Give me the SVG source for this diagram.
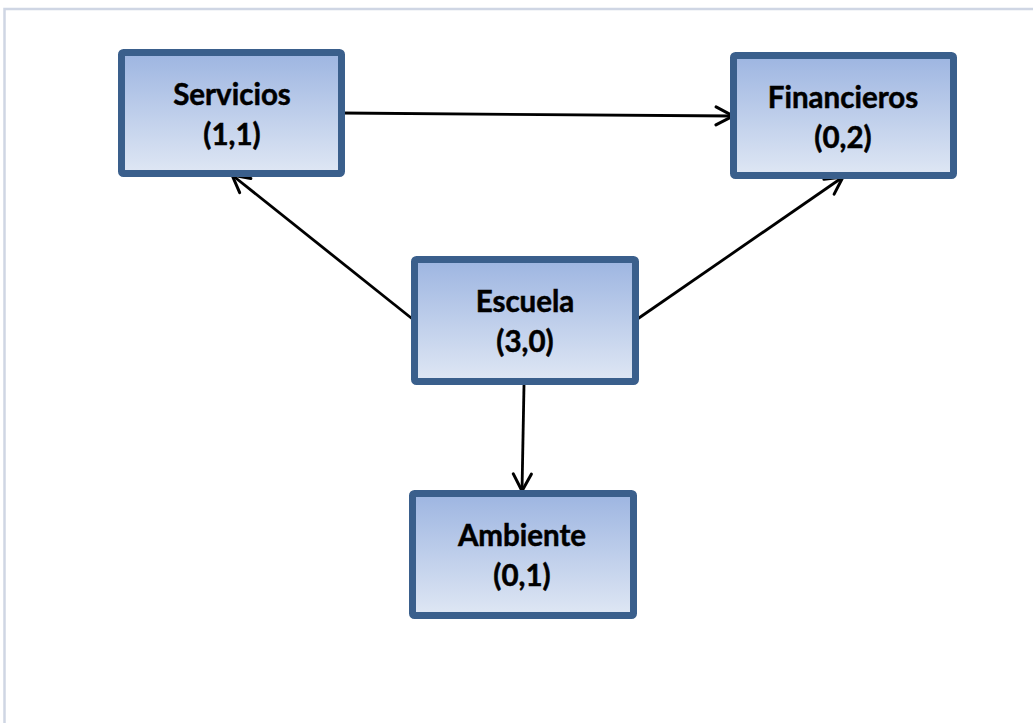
<svg xmlns="http://www.w3.org/2000/svg" width="1033" height="723" viewBox="0 0 1033 723">
  <defs>
    <linearGradient id="boxFill" x1="0" y1="0" x2="0" y2="1">
      <stop offset="0" stop-color="#9db5e1"/>
      <stop offset="1" stop-color="#dfe7f4"/>
    </linearGradient>
    <marker id="arrow" viewBox="0 0 22 22" refX="20" refY="11" markerWidth="22" markerHeight="22" markerUnits="userSpaceOnUse" orient="auto">
      <path d="M3,2 L20,11 L3,20" fill="none" stroke="#000" stroke-width="3" stroke-linecap="round" stroke-linejoin="miter"/>
    </marker>
  </defs>
  <style>
    .frame { fill: none; stroke: #cfd6e4; stroke-width: 2.5; }
    .box { fill: url(#boxFill); stroke: #3a5f8c; stroke-width: 7; }
    .label { font-family: Lato, "Open Sans", sans-serif; font-weight: bold; font-size: 29.5px; fill: #000; stroke: #000; stroke-width: 0.5; text-anchor: middle; }
    .conn { fill: none; stroke: #000; stroke-width: 2.8; marker-end: url(#arrow); }
  </style>

  <!-- outer frame -->
  <path class="frame" d="M4.5,723 L4.5,9 L1033,9"/>

  <g id="connectors">
    <line class="conn" x1="341" y1="113" x2="733" y2="116"/>
    <line class="conn" x1="415" y1="321" x2="232" y2="175"/>
    <line class="conn" x1="636" y1="320" x2="843" y2="177"/>
    <line class="conn" x1="524" y1="385" x2="522" y2="491"/>
  </g>

  <g id="servicios">
    <rect class="box" x="121.5" y="52.5" width="220" height="121" rx="2"/>
    <text class="label" x="232" y="105">Servicios</text>
    <text class="label" x="232" y="145">(1,1)</text>
  </g>

  <g id="financieros">
    <rect class="box" x="733.5" y="55.5" width="220" height="120" rx="2"/>
    <text class="label" x="843" y="108">Financieros</text>
    <text class="label" x="843" y="148">(0,2)</text>
  </g>

  <g id="escuela">
    <rect class="box" x="414.5" y="259.5" width="221" height="122" rx="2"/>
    <text class="label" x="525" y="312">Escuela</text>
    <text class="label" x="525" y="352">(3,0)</text>
  </g>

  <g id="ambiente">
    <rect class="box" x="412.5" y="493.5" width="221" height="122" rx="2"/>
    <text class="label" x="522" y="546">Ambiente</text>
    <text class="label" x="522" y="586">(0,1)</text>
  </g>
</svg>
